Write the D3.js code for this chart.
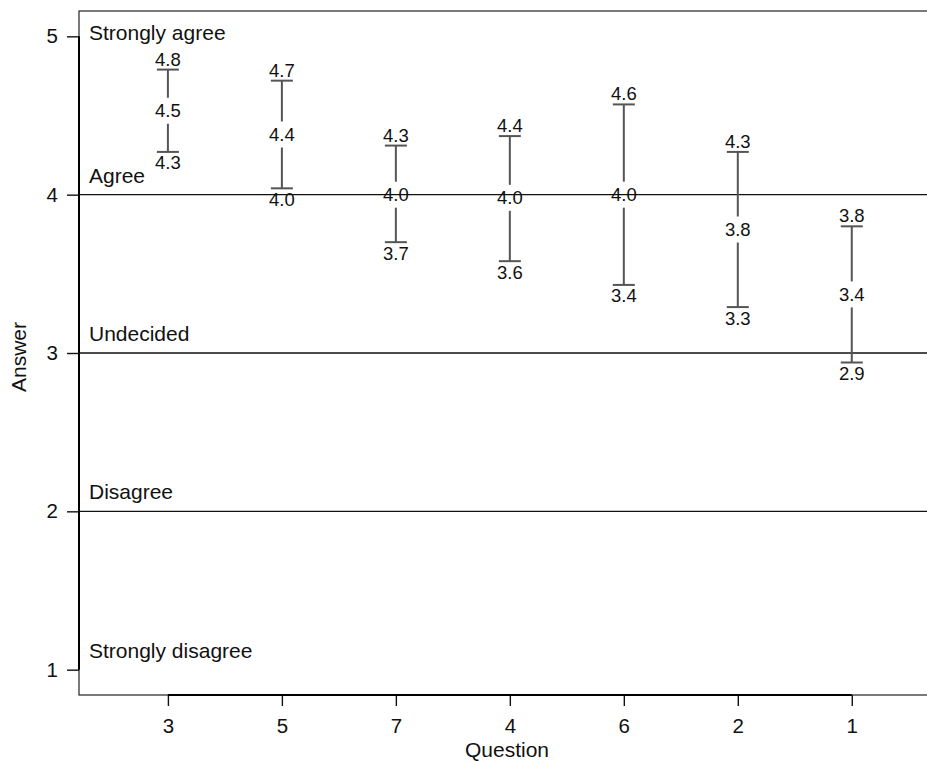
<!DOCTYPE html>
<html>
<head>
<meta charset="utf-8">
<script src="https://cdn.jsdelivr.net/npm/d3@7"></script>
<style>
  html, body { margin: 0; padding: 0; background: #fff; }
  svg { display: block; }
  text { font-family: "Liberation Sans", Arial, Helvetica, sans-serif; fill: #111; }
</style>
</head>
<body>
<svg id="chart" width="927" height="762"></svg>
<script>
// Questions in plotted order, with mean answer and confidence interval
const questions = ["3", "5", "7", "4", "6", "2", "1"];
const means     = [4.53, 4.38, 4.0, 3.98, 4.0, 3.78, 3.37];
const lowers    = [4.27, 4.04, 3.70, 3.58, 3.43, 3.29, 2.94];
const uppers    = [4.79, 4.72, 4.31, 4.37, 4.57, 4.27, 3.80];

// Answer scale
const yTicks = [1, 2, 3, 4, 5];
const levels = [
  { v: 5, label: "Strongly agree" },
  { v: 4, label: "Agree" },
  { v: 3, label: "Undecided" },
  { v: 2, label: "Disagree" },
  { v: 1, label: "Strongly disagree" }
];
const refLines = [2, 3, 4];

const svg = d3.select("#chart");
const mLeft = 79, mRight = 927, mTop = 11, mBottom = 695;

const x = d3.scaleLinear().domain([0.22, 7.66]).range([mLeft, mRight]);
const y = d3.scaleLinear().domain([0.84, 5.16]).range([mBottom, mTop]);
const fmt = d3.format(".1f");

// plot frame (thin)
svg.append("rect")
  .attr("x", mLeft).attr("y", mTop)
  .attr("width", mRight - mLeft + 5).attr("height", mBottom - mTop)
  .attr("fill", "none").attr("stroke", "#222").attr("stroke-width", 1.2);

// reference lines at the answer levels
svg.append("g").selectAll("line").data(refLines).join("line")
  .attr("x1", mLeft).attr("x2", mRight)
  .attr("y1", d => y(d)).attr("y2", d => y(d))
  .attr("stroke", "#111").attr("stroke-width", 1.4);

// level labels
svg.append("g").selectAll("text").data(levels).join("text")
  .attr("x", mLeft + 10)
  .attr("y", d => Math.max(y(d.v) - 12, mTop + 29))
  .attr("font-size", 21)
  .text(d => d.label);

// y axis
const yAxis = d3.axisLeft(y).tickValues(yTicks).tickSize(12).tickPadding(9).tickFormat(d3.format("d"));
const gy = svg.append("g").attr("transform", `translate(${mLeft},0)`).call(yAxis);
gy.select(".domain").remove();
gy.selectAll(".tick line").attr("stroke", "#111").attr("stroke-width", 1.4);
gy.selectAll(".tick text").attr("font-size", 20.5).attr("fill", "#111").style("font-family", "Liberation Sans, Arial, sans-serif");
gy.append("line").attr("x1", 0).attr("x2", 0)
  .attr("y1", y(1)).attr("y2", y(5)).attr("stroke", "#000").attr("stroke-width", 2);

// x axis
const xAxis = d3.axisBottom(x).tickValues(d3.range(1, questions.length + 1))
  .tickSize(11).tickPadding(12).tickFormat((d, i) => questions[i]);
const gx = svg.append("g").attr("transform", `translate(0,${mBottom})`).call(xAxis);
gx.select(".domain").remove();
gx.selectAll(".tick line").attr("stroke", "#111").attr("stroke-width", 1.4);
gx.selectAll(".tick text").attr("font-size", 20.5).attr("fill", "#111").style("font-family", "Liberation Sans, Arial, sans-serif");
gx.append("line").attr("y1", 0).attr("y2", 0)
  .attr("x1", x(1)).attr("x2", x(questions.length)).attr("stroke", "#000").attr("stroke-width", 2);

// axis titles
svg.append("text")
  .attr("x", 507).attr("y", 757)
  .attr("text-anchor", "middle").attr("font-size", 21)
  .text("Question");
svg.append("text")
  .attr("transform", `translate(26,357) rotate(-90)`)
  .attr("text-anchor", "middle").attr("font-size", 21)
  .text("Answer");

// confidence intervals
const data = questions.map((q, i) => ({ q, pos: i + 1, m: means[i], lo: lowers[i], hi: uppers[i] }));
const gap = 13, capW = 11;
const bars = svg.append("g").selectAll("g").data(data).join("g");

bars.append("line")
  .attr("x1", d => x(d.pos)).attr("x2", d => x(d.pos))
  .attr("y1", d => y(d.hi)).attr("y2", d => y(d.m) - gap)
  .attr("stroke", "#555").attr("stroke-width", 2);
bars.append("line")
  .attr("x1", d => x(d.pos)).attr("x2", d => x(d.pos))
  .attr("y1", d => y(d.m) + gap).attr("y2", d => y(d.lo))
  .attr("stroke", "#555").attr("stroke-width", 2);
bars.append("line")
  .attr("x1", d => x(d.pos) - capW).attr("x2", d => x(d.pos) + capW)
  .attr("y1", d => y(d.hi)).attr("y2", d => y(d.hi))
  .attr("stroke", "#555").attr("stroke-width", 2);
bars.append("line")
  .attr("x1", d => x(d.pos) - capW).attr("x2", d => x(d.pos) + capW)
  .attr("y1", d => y(d.lo)).attr("y2", d => y(d.lo))
  .attr("stroke", "#555").attr("stroke-width", 2);

bars.append("text")
  .attr("x", d => x(d.pos)).attr("y", d => y(d.hi) - 4)
  .attr("text-anchor", "middle").attr("font-size", 18.5)
  .text(d => fmt(d.hi));
bars.append("text")
  .attr("x", d => x(d.pos)).attr("y", d => y(d.m) + 6.5)
  .attr("text-anchor", "middle").attr("font-size", 18.5)
  .text(d => fmt(d.m));
bars.append("text")
  .attr("x", d => x(d.pos)).attr("y", d => y(d.lo) + 17.5)
  .attr("text-anchor", "middle").attr("font-size", 18.5)
  .text(d => fmt(d.lo));
</script>
</body>
</html>
